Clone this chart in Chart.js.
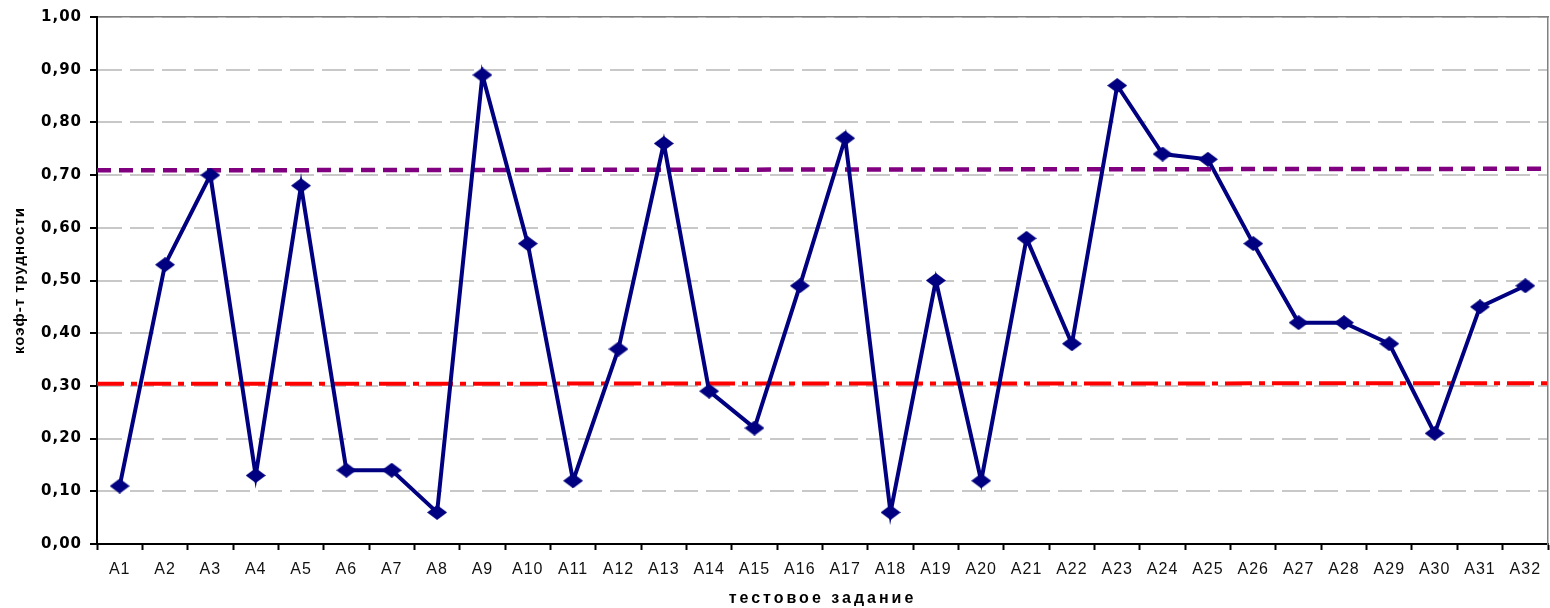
<!DOCTYPE html>
<html>
<head>
<meta charset="utf-8">
<title>коэф-т трудности</title>
<script src="https://cdn.jsdelivr.net/npm/chart.js@4/dist/chart.umd.min.js"></script>
<style>
  html, body { margin: 0; padding: 0; background: #ffffff; }
  #wrap { width: 1550px; height: 608px; }
</style>
</head>
<body>
<div id="wrap"><canvas id="chart" width="1550" height="608"></canvas></div>
<script>
// Test items
const categories = ['A1','A2','A3','A4','A5','A6','A7','A8','A9','A10','A11','A12','A13','A14','A15','A16',
                    'A17','A18','A19','A20','A21','A22','A23','A24','A25','A26','A27','A28','A29','A30','A31','A32'];

// Difficulty coefficient per item
const difficulty = [0.11, 0.53, 0.70, 0.13, 0.68, 0.14, 0.14, 0.06, 0.89, 0.57, 0.12, 0.37, 0.76, 0.29, 0.22, 0.49,
                    0.77, 0.06, 0.50, 0.12, 0.58, 0.38, 0.87, 0.74, 0.73, 0.57, 0.42, 0.42, 0.38, 0.21, 0.45, 0.49];

// Bounds of the acceptable range (start and end of the plot width)
const upperBound = [0.709, 0.712];
const lowerBound = [0.304, 0.305];

// Value axis tick labels
const yTickLabels = ['0,00','0,10','0,20','0,30','0,40','0,50','0,60','0,70','0,80','0,90','1,00'];

// Diamond marker
function diamond(w, h, color) {
  const c = document.createElement('canvas');
  c.width = w; c.height = h;
  const g = c.getContext('2d');
  g.fillStyle = color;
  g.beginPath();
  g.moveTo(w / 2, 0);
  g.lineTo(w, h / 2);
  g.lineTo(w / 2, h);
  g.lineTo(0, h / 2);
  g.closePath();
  g.fill();
  return c;
}
const marker = diamond(20, 15, '#000080');

const edgeLine = (data) => data.map((v, i) => ({ x: i, y: v }));

// Wider letter spacing for axis labels and titles
const letterSpacingPlugin = {
  id: 'letterSpacing',
  beforeDraw(chart, args, opts) {
    const cfg = opts.scales || {};
    Object.keys(cfg).forEach((id) => {
      const scale = chart.scales[id];
      if (!scale || scale._spacingWrapped) return;
      scale._spacingWrapped = true;
      const wrap = (fn, value) => function (...a) {
        const ctx = this.ctx;
        const prev = ctx.letterSpacing;
        ctx.letterSpacing = value;
        const r = fn.apply(this, a);
        ctx.letterSpacing = prev;
        return r;
      };
      if (cfg[id].labels) scale.drawLabels = wrap(scale.drawLabels, cfg[id].labels);
      if (cfg[id].title) scale.drawTitle = wrap(scale.drawTitle, cfg[id].title);
    });
  }
};

// Fixed axis box sizes without extra edge padding
const fixHeight = (h) => (s) => { s.height = h; s.paddingLeft = 0; s.paddingRight = 0; };
const fixWidth = (w) => (s) => { s.width = w; s.paddingTop = 0; s.paddingBottom = 0; };

new Chart(document.getElementById('chart'), {
  type: 'line',
  plugins: [letterSpacingPlugin],
  data: {
    labels: categories,
    datasets: [
      {
        label: 'коэф-т трудности',
        data: difficulty,
        xAxisID: 'x',
        borderColor: '#000080',
        backgroundColor: '#000080',
        borderWidth: 4,
        pointStyle: marker,
        pointRadius: 8,
        tension: 0
      },
      {
        label: 'upper',
        data: edgeLine(upperBound),
        xAxisID: 'xRef',
        borderColor: '#800080',
        borderWidth: 4.5,
        borderDash: [14, 8],
        pointRadius: 0,
        tension: 0
      },
      {
        label: 'lower',
        data: edgeLine(lowerBound),
        xAxisID: 'xRef',
        borderColor: '#ff0000',
        borderWidth: 4,
        borderDash: [27, 7, 6, 7],
        pointRadius: 0,
        tension: 0
      }
    ]
  },
  options: {
    responsive: false,
    animation: false,
    devicePixelRatio: 1,
    layout: { padding: 0, autoPadding: false },
    plugins: {
      legend: { display: false },
      tooltip: { enabled: false },
      letterSpacing: {
        scales: {
          x: { labels: '1px', title: '3px' },
          y: { labels: '1px', title: '1px' }
        }
      }
    },
    scales: {
      x: {
        type: 'category',
        position: 'bottom',
        offset: true,
        grid: {
          offset: true,
          drawOnChartArea: false,
          drawTicks: true,
          tickLength: 6,
          tickColor: '#000000',
          tickWidth: 2,
          tickBorderDash: []
        },
        border: { display: true, color: '#000000', width: 2 },
        ticks: {
          autoSkip: false,
          maxRotation: 0,
          minRotation: 0,
          padding: 10,
          color: '#111111',
          font: { family: 'Liberation Sans, Arial, sans-serif', size: 16 }
        },
        title: {
          display: true,
          text: 'тестовое задание',
          color: '#000000',
          padding: { top: 0, bottom: 0 },
          font: { family: 'Liberation Sans, Arial, sans-serif', size: 16, weight: 'bold' }
        },
        afterFit: fixHeight(64)
      },
      xRef: {
        type: 'linear',
        position: 'top',
        min: 0,
        max: 1,
        grid: { display: false, drawTicks: false },
        border: { display: true, color: '#808080', width: 1.5 },
        ticks: { display: false },
        afterFit: fixHeight(17)
      },
      y: {
        type: 'linear',
        position: 'left',
        min: 0,
        max: 1,
        ticks: {
          stepSize: 0.1,
          padding: 8,
          color: '#000000',
          font: { family: 'DejaVu Sans, Verdana, sans-serif', size: 15, weight: 'bold' },
          callback: (value, index) => yTickLabels[index]
        },
        grid: {
          color: '#c8c8c8',
          lineWidth: 2,
          drawTicks: true,
          tickLength: 7,
          tickColor: '#000000',
          tickWidth: 2,
          tickBorderDash: []
        },
        border: { display: true, color: '#000000', width: 2, dash: [24, 8] },
        title: {
          display: true,
          text: 'коэф-т трудности',
          color: '#000000',
          padding: { top: 11, bottom: 0 },
          font: { family: 'Liberation Sans, Arial, sans-serif', size: 15, weight: 'bold' }
        },
        afterFit: fixWidth(97)
      },
      yR: {
        type: 'linear',
        position: 'right',
        min: 0,
        max: 1,
        grid: { display: false, drawTicks: false },
        border: { display: true, color: '#808080', width: 1.5 },
        ticks: { display: false },
        afterFit: fixWidth(2)
      }
    }
  }
});
</script>
</body>
</html>
